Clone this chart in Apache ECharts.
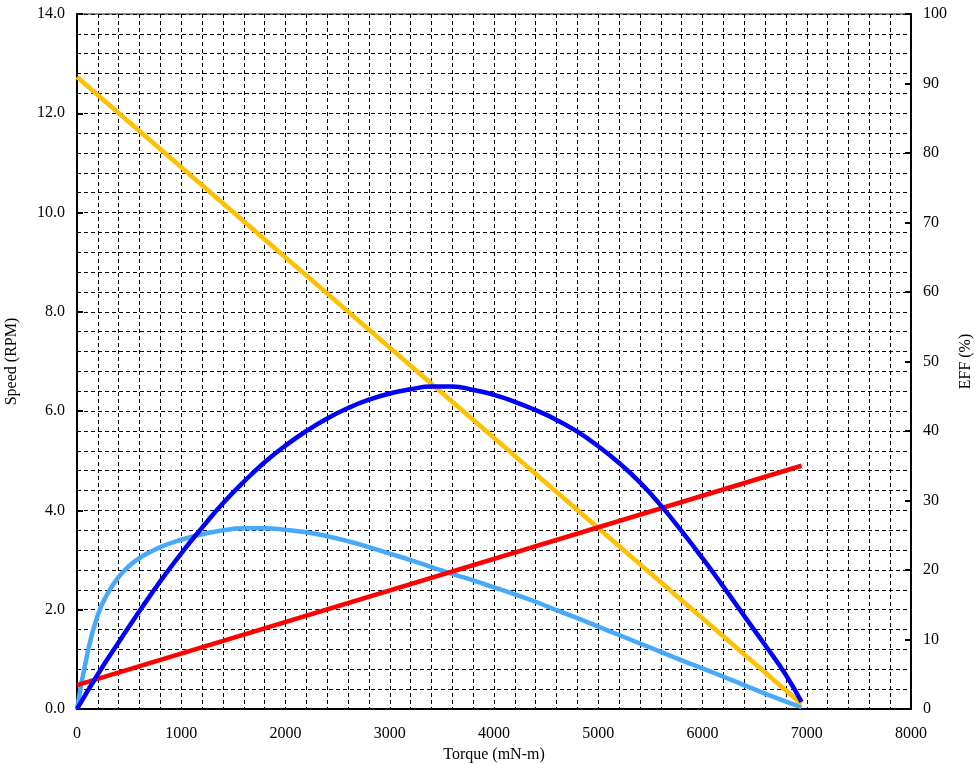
<!DOCTYPE html>
<html>
<head>
<meta charset="utf-8">
<script src="https://cdn.jsdelivr.net/npm/echarts@6/dist/echarts.min.js"></script>
<style>
html, body { margin: 0; padding: 0; background: #fff; }
#chart { width: 975px; height: 764px; }
</style>
</head>
<body>
<div id="chart"></div>
<script>
// torque (mN-m) points for each curve
var speedTorque = [0, 6950];
var speedVals = [12.73, 0.1];

var currentTorque = [0, 6950];
var currentVals = [0.48, 4.9];

var powerTorque = [0, 100, 200, 300, 400, 500, 600, 700, 800, 900, 1000, 1100, 1200, 1400, 1600, 1800, 2000, 2200, 2400, 2600, 2800, 3000, 3200, 3400, 3600, 3800, 4000, 4200, 4400, 4600, 4800, 5000, 5200, 5400, 5600, 5800, 6000, 6200, 6400, 6600, 6800, 6950];
var powerVals = [0, 1.12, 1.9, 2.35, 2.66, 2.88, 3.04, 3.16, 3.26, 3.34, 3.41, 3.47, 3.52, 3.6, 3.64, 3.64, 3.61, 3.56, 3.48, 3.38, 3.26, 3.13, 3.0, 2.86, 2.72, 2.59, 2.45, 2.31, 2.16, 1.99, 1.83, 1.66, 1.49, 1.32, 1.15, 0.98, 0.82, 0.65, 0.48, 0.31, 0.15, 0.04];

var effTorque = [0, 200, 400, 600, 800, 1000, 1200, 1400, 1600, 1800, 2000, 2200, 2400, 2600, 2800, 3000, 3200, 3400, 3600, 3800, 4000, 4200, 4400, 4600, 4800, 5000, 5200, 5400, 5600, 5800, 6000, 6200, 6400, 6600, 6800, 6950];
var effVals = [0, 5.0, 9.6, 14.1, 18.4, 22.4, 26.1, 29.6, 32.7, 35.5, 37.9, 40.0, 41.8, 43.3, 44.5, 45.4, 46.0, 46.4, 46.4, 45.9, 45.2, 44.2, 43.0, 41.6, 39.9, 37.8, 35.4, 32.6, 29.3, 25.6, 21.7, 17.6, 13.4, 9.2, 4.9, 1.0];

function pairs(xs, ys) {
	var out = [];
	for (var i = 0; i < xs.length; i++) out.push([xs[i], ys[i]]);
	return out;
}

var myChart = echarts.init(document.getElementById('chart'));
var font = 'Liberation Serif';
var dashed = { type: [4, 3], color: '#000', width: 1 };

var option = {
	animation: false,
	grid: {
		left: 77, right: 64, top: 14, bottom: 55,
		outerBoundsMode: 'none', containLabel: false,
		show: true, borderColor: '#8c8c8c', borderWidth: 2
	},
	xAxis: {
		type: 'value', min: 0, max: 8000, interval: 1000,
		name: 'Torque (mN-m)', nameLocation: 'middle', nameGap: 37,
		nameTextStyle: { fontFamily: font, fontSize: 16, color: '#000' },
		axisLine: { show: true, lineStyle: { color: '#000', width: 2 } },
		axisTick: { show: false },
		axisLabel: { fontFamily: font, fontSize: 16, color: '#000', margin: 17,
			formatter: function (v) { return String(v); } },
		splitLine: { show: true, lineStyle: dashed },
		minorTick: { show: false, splitNumber: 5 },
		minorSplitLine: { show: true, lineStyle: dashed }
	},
	yAxis: [{
		type: 'value', min: 0, max: 14, interval: 2,
		name: 'Speed (RPM)', nameLocation: 'middle', nameGap: 57, nameRotate: 90,
		nameTextStyle: { fontFamily: font, fontSize: 16, color: '#000' },
		axisLine: { show: true, lineStyle: { color: '#000', width: 2 } },
		axisTick: { show: true, inside: true, length: 6, lineStyle: { color: '#000', width: 2 } },
		axisLabel: { fontFamily: font, fontSize: 16, color: '#000', margin: 12,
			formatter: function (v) { return v.toFixed(1); } },
		splitLine: { show: true, lineStyle: dashed },
		minorTick: { show: false, splitNumber: 5 },
		minorSplitLine: { show: true, lineStyle: dashed }
	}, {
		type: 'value', min: 0, max: 100, interval: 10,
		name: 'EFF (%)', nameLocation: 'middle', nameGap: 43, nameRotate: 90,
		nameTextStyle: { fontFamily: font, fontSize: 16, color: '#000' },
		axisLine: { show: true, lineStyle: { color: '#000', width: 2 } },
		axisTick: { show: true, inside: true, length: 6, lineStyle: { color: '#000', width: 2 } },
		axisLabel: { fontFamily: font, fontSize: 16, color: '#000', margin: 12 },
		splitLine: { show: false }
	}],
	series: [{
		name: 'Power', type: 'line', yAxisIndex: 0,
		smooth: true, showSymbol: false,
		lineStyle: { color: '#47A9FA', width: 4.5 },
		data: pairs(powerTorque, powerVals)
	}, {
		name: 'Speed', type: 'line', yAxisIndex: 0,
		showSymbol: false,
		lineStyle: { color: '#FFC000', width: 4.5 },
		data: pairs(speedTorque, speedVals)
	}, {
		name: 'Current', type: 'line', yAxisIndex: 0,
		showSymbol: false,
		lineStyle: { color: '#FF0000', width: 4.5 },
		data: pairs(currentTorque, currentVals)
	}, {
		name: 'EFF', type: 'line', yAxisIndex: 1,
		smooth: true, showSymbol: false,
		lineStyle: { color: '#0000FF', width: 4.5 },
		data: pairs(effTorque, effVals)
	}]
};

myChart.setOption(option);
window.addEventListener('resize', function () {
	myChart.resize();
});
</script>
</body>
</html>
